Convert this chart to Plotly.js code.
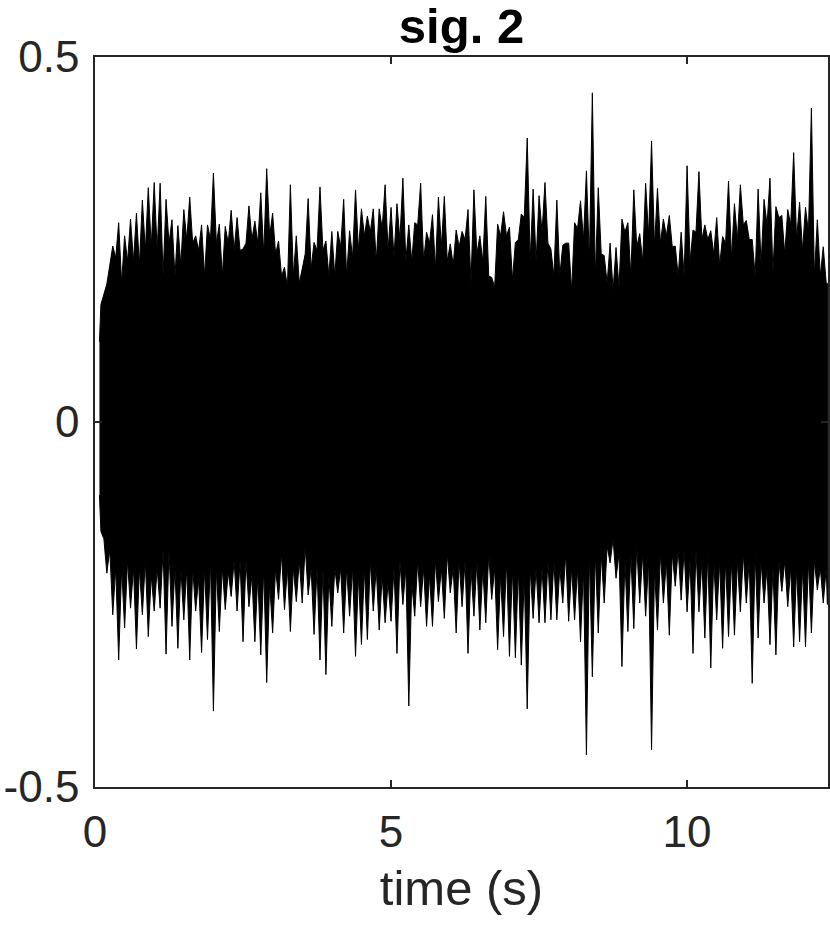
<!DOCTYPE html>
<html>
<head>
<meta charset="utf-8">
<script src="https://cdn.plot.ly/plotly-3.0.1.min.js"></script>
<style>
  html, body { margin: 0; padding: 0; background: #fff; }
  #chart { width: 830px; height: 927px; }
</style>
</head>
<body>
<div id="chart"></div>
<script>
// envelope of the signal, every 0.1 s
// peaks sit at t = 0.1, 0.2, ... and dips halfway between them
const STEP = 0.1;
const onsetT = 0.075;
const onsetHi = 0.11;
const onsetLo = -0.1;
const endT = 12.37;
const endHi = 0.19;
const endLo = -0.25;

const upperPeak = [
  0.161, 0.189, 0.241, 0.273, 0.255, 0.278, 0.286, 0.304, 0.321, 0.328,
  0.327, 0.305, 0.277, 0.269, 0.291, 0.308, 0.255, 0.270, 0.270, 0.341,
  0.271, 0.268, 0.290, 0.280, 0.237, 0.296, 0.275, 0.314, 0.347, 0.286,
  0.248, 0.212, 0.325, 0.255, 0.209, 0.306, 0.246, 0.322, 0.248, 0.261,
  0.261, 0.305, 0.262, 0.318, 0.292, 0.282, 0.292, 0.292, 0.325, 0.294,
  0.299, 0.334, 0.270, 0.273, 0.327, 0.260, 0.284, 0.308, 0.309, 0.244,
  0.263, 0.261, 0.291, 0.318, 0.255, 0.309, 0.198, 0.271, 0.288, 0.267,
  0.246, 0.285, 0.389, 0.319, 0.310, 0.328, 0.237, 0.304, 0.242, 0.245,
  0.273, 0.303, 0.344, 0.451, 0.321, 0.228, 0.245, 0.239, 0.278, 0.273,
  0.318, 0.258, 0.327, 0.385, 0.320, 0.278, 0.283, 0.241, 0.260, 0.351,
  0.263, 0.343, 0.270, 0.262, 0.280, 0.254, 0.330, 0.299, 0.325, 0.276,
  0.250, 0.319, 0.305, 0.334, 0.295, 0.283, 0.291, 0.369, 0.301, 0.294,
  0.430, 0.277, 0.240
];
const upperDip = [
  0.175, 0.215, 0.225, 0.19, 0.22, 0.22, 0.215, 0.235, 0.24, 0.235,
  0.2, 0.245, 0.2, 0.215, 0.25, 0.245, 0.235, 0.2, 0.25, 0.245,
  0.2, 0.245, 0.235, 0.235, 0.245, 0.25, 0.245, 0.23, 0.255, 0.23,
  0.2, 0.185, 0.2, 0.19, 0.23, 0.21, 0.235, 0.235, 0.2, 0.2,
  0.24, 0.2, 0.225, 0.235, 0.255, 0.26, 0.22, 0.265, 0.235, 0.225,
  0.25, 0.22, 0.22, 0.27, 0.22, 0.245, 0.21, 0.24, 0.22, 0.215,
  0.24, 0.25, 0.19, 0.23, 0.22, 0.2, 0.185, 0.255, 0.255, 0.195,
  0.25, 0.28, 0.22, 0.22, 0.26, 0.245, 0.2, 0.2, 0.245, 0.18,
  0.265, 0.25, 0.22, 0.2, 0.23, 0.19, 0.18, 0.185, 0.26, 0.2,
  0.24, 0.22, 0.255, 0.24, 0.245, 0.255, 0.24, 0.2, 0.2, 0.22,
  0.26, 0.25, 0.25, 0.23, 0.215, 0.245, 0.225, 0.25, 0.27, 0.25,
  0.2, 0.215, 0.27, 0.205, 0.28, 0.23, 0.27, 0.25, 0.235, 0.26,
  0.2, 0.2, 0.19
];
const lowerPeak = [
  -0.150, -0.207, -0.264, -0.326, -0.282, -0.255, -0.311, -0.264, -0.294, -0.259,
  -0.255, -0.318, -0.280, -0.310, -0.271, -0.326, -0.259, -0.316, -0.298, -0.396,
  -0.287, -0.257, -0.239, -0.259, -0.301, -0.253, -0.301, -0.319, -0.357, -0.289,
  -0.243, -0.257, -0.287, -0.246, -0.248, -0.237, -0.291, -0.326, -0.346, -0.280,
  -0.234, -0.289, -0.266, -0.321, -0.305, -0.298, -0.259, -0.285, -0.275, -0.273,
  -0.317, -0.250, -0.389, -0.266, -0.253, -0.280, -0.280, -0.246, -0.269, -0.234,
  -0.289, -0.253, -0.317, -0.266, -0.285, -0.275, -0.243, -0.312, -0.294, -0.321,
  -0.323, -0.333, -0.393, -0.269, -0.275, -0.275, -0.271, -0.271, -0.248, -0.273,
  -0.271, -0.301, -0.456, -0.349, -0.289, -0.248, -0.193, -0.214, -0.335, -0.287,
  -0.283, -0.248, -0.266, -0.449, -0.285, -0.248, -0.292, -0.225, -0.244, -0.260,
  -0.317, -0.260, -0.296, -0.337, -0.271, -0.310, -0.294, -0.292, -0.260, -0.248,
  -0.358, -0.296, -0.248, -0.305, -0.319, -0.232, -0.253, -0.308, -0.301, -0.308,
  -0.289, -0.230, -0.248
];
const lowerDip = [
  -0.16, -0.175, -0.2, -0.2, -0.19, -0.2, -0.2, -0.19, -0.21, -0.2,
  -0.175, -0.175, -0.2, -0.2, -0.2, -0.2, -0.215, -0.2, -0.19, -0.2,
  -0.2, -0.205, -0.19, -0.19, -0.19, -0.21, -0.21, -0.2, -0.22, -0.2,
  -0.18, -0.2, -0.2, -0.19, -0.17, -0.2, -0.2, -0.2, -0.21, -0.2,
  -0.2, -0.2, -0.2, -0.21, -0.2, -0.19, -0.2, -0.21, -0.22, -0.2,
  -0.19, -0.2, -0.22, -0.19, -0.2, -0.21, -0.19, -0.2, -0.18, -0.2,
  -0.19, -0.19, -0.2, -0.19, -0.2, -0.18, -0.2, -0.21, -0.19, -0.2,
  -0.2, -0.21, -0.2, -0.2, -0.2, -0.19, -0.19, -0.2, -0.18, -0.2,
  -0.2, -0.2, -0.18, -0.18, -0.18, -0.17, -0.16, -0.18, -0.19, -0.18,
  -0.17, -0.18, -0.19, -0.2, -0.18, -0.19, -0.18, -0.175, -0.175, -0.19,
  -0.175, -0.19, -0.18, -0.19, -0.19, -0.19, -0.19, -0.19, -0.18, -0.19,
  -0.18, -0.19, -0.2, -0.2, -0.19, -0.19, -0.2, -0.2, -0.2, -0.19,
  -0.19, -0.2, -0.2
];

const FONT = "'Liberation Sans', Arial, Helvetica, sans-serif";
const AX = "#262626";

// walk one edge: onset, then peak / dip alternating, then the end of the record
function edge(peaks, dips, start, end) {
  const x = [onsetT], y = [start];
  peaks.forEach((p, i) => {
    x.push((i + 1) * STEP, (i + 1.5) * STEP);
    y.push(p, dips[i]);
  });
  x.push(endT);
  y.push(end);
  return { x, y };
}

const upperEdge = edge(upperPeak, upperDip, onsetHi, endHi);
const lowerEdge = edge(lowerPeak, lowerDip, onsetLo, endLo);

const trace = {
  x: upperEdge.x.concat(lowerEdge.x.slice().reverse()),
  y: upperEdge.y.concat(lowerEdge.y.slice().reverse()),
  mode: "lines",
  fill: "toself",
  fillcolor: "#000",
  line: { color: "#000", width: 1 },
  hoverinfo: "skip"
};

const axisBase = {
  showline: true,
  linecolor: AX,
  linewidth: 1.8,
  mirror: "ticks",
  ticks: "inside",
  ticklen: 7,
  tickwidth: 1.5,
  tickcolor: AX,
  showgrid: false,
  zeroline: false,
  tickfont: { family: FONT, size: 44, color: AX }
};

const layout = {
  width: 830,
  height: 927,
  paper_bgcolor: "#fff",
  plot_bgcolor: "#fff",
  showlegend: false,
  margin: { l: 95, r: 2, t: 57, b: 140 },
  title: {
    text: "<b>sig. 2</b>",
    font: { family: FONT, size: 49, color: "#000" },
    xref: "paper", x: 0.5, xanchor: "center",
    yref: "container", y: 1 - 26 / 927, yanchor: "middle"
  },
  xaxis: Object.assign({}, axisBase, {
    range: [0, 12.38],
    tickvals: [0, 5, 10],
    ticktext: ["0", "5", "10"],
    ticklabelstandoff: 5,
    title: { text: "time (s)", font: { family: FONT, size: 49, color: AX }, standoff: 16 }
  }),
  yaxis: Object.assign({}, axisBase, {
    range: [-0.5, 0.5],
    tickvals: [-0.5, 0, 0.5],
    ticktext: ["-0.5", "0", "0.5"],
    ticklabelstandoff: 5
  })
};

Plotly.newPlot("chart", [trace], layout, { displayModeBar: false, staticPlot: true });
</script>
</body>
</html>
